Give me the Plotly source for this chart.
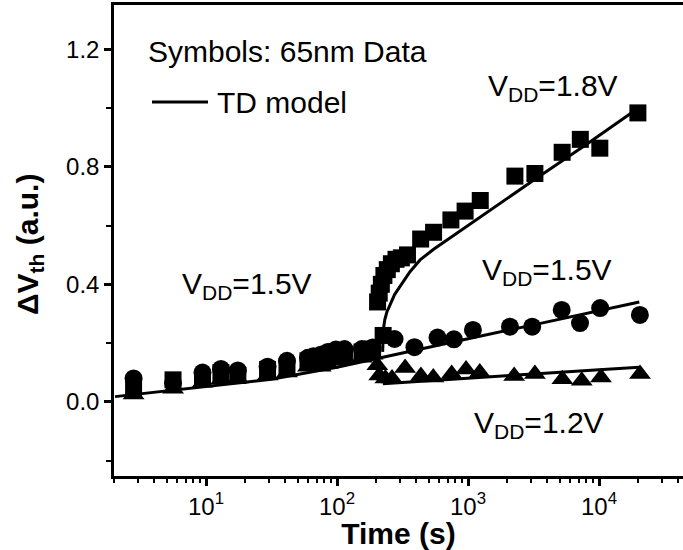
import plotly.graph_objects as go

# ---------------- data ----------------
# early stress (all devices at 1.5 V) then split at ~220 s
t_early = [2.8, 5.6, 9.4, 13, 17.5, 29.5, 41.5, 60, 66, 75, 85, 98, 114, 155, 187]
sq_early = [0.05, 0.075, 0.08, 0.10, 0.09, 0.11, 0.12, 0.14, 0.15, 0.15, 0.16, 0.17, 0.16, 0.17, 0.18]
ci_early = [0.08, 0.065, 0.10, 0.112, 0.107, 0.12, 0.14, 0.15, 0.155, 0.16, 0.17, 0.178, 0.18, 0.18, 0.185]
tr_early = [0.025, 0.045, 0.065, 0.075, 0.08, 0.09, 0.10, 0.12, 0.125, 0.12, 0.13, 0.14, 0.145, 0.15, 0.16]

# V_DD = 1.8 V (squares)
t_sq = [225, 204, 210, 218, 228, 242, 260, 282, 310, 345, 435, 546, 740, 950, 1240,
        2280, 3240, 5230, 7200, 10140, 19800]
v_sq = [0.226, 0.34, 0.37, 0.40, 0.43, 0.45, 0.47, 0.485, 0.49, 0.50, 0.554, 0.577,
        0.619, 0.649, 0.685, 0.768, 0.777, 0.849, 0.893, 0.863, 0.983]

# V_DD = 1.5 V (circles)
t_ci = [275, 390, 585, 780, 1090, 2090, 3090, 5190, 7160, 10200, 20500]
v_ci = [0.214, 0.186, 0.219, 0.213, 0.245, 0.256, 0.256, 0.313, 0.268, 0.319, 0.296]

# V_DD = 1.2 V (triangles)
t_tr = [203, 210, 234, 263, 331, 437, 543, 750, 966, 1230, 2250, 3240, 5250, 7380, 10350, 20560]
v_tr = [0.125, 0.09, 0.08, 0.08, 0.115, 0.088, 0.083, 0.095, 0.11, 0.10, 0.088, 0.095,
        0.077, 0.072, 0.083, 0.095]

# TD model curves
m15_t = [2.02, 9.0, 31.6, 100, 302, 1000, 3160, 10000, 20300]
m15_v = [0.018, 0.05, 0.077, 0.118, 0.165, 0.215, 0.262, 0.31, 0.34]
m18_t = [223, 225, 226.5, 231.7, 239.9, 254, 275, 302, 360.6, 430.5, 549.5, 691.8,
         1259, 3162, 7943, 18197]
m18_v = [0.17, 0.222, 0.25, 0.28, 0.305, 0.33, 0.365, 0.392, 0.443, 0.483, 0.52, 0.551,
         0.632, 0.754, 0.875, 0.987]
m12_t = [224, 302, 1000, 3160, 10000, 20300]
m12_v = [0.062, 0.066, 0.081, 0.095, 0.109, 0.118]

x_tickvals = [10, 100, 1000, 10000]
x_ticktext = ["10<sup>1</sup>", "10<sup>2</sup>", "10<sup>3</sup>", "10<sup>4</sup>"]
y_tickvals = [0.0, 0.4, 0.8, 1.2]
y_ticktext = ["0.0", "0.4", "0.8", "1.2"]
y_minor = [-0.2, 0.2, 0.6, 1.0]

# ---------------- figure ----------------
W, H = 683, 550
L, R, T, B = 114, 0, 5, 74
PW, PH = W - L - R, H - T - B
FONT = "Liberation Sans, Arial, sans-serif"


def px(x):
    return (x - L) / PW


def py(y):
    return (H - B - y) / PH


fig = go.Figure()
line_style = dict(color="black", width=3)
for tt, vv in [(m15_t, m15_v), (m18_t, m18_v), (m12_t, m12_v)]:
    fig.add_trace(go.Scatter(x=tt, y=vv, mode="lines", line=line_style,
                             showlegend=False, hoverinfo="skip"))

mk = dict(color="black", line=dict(width=0))
fig.add_trace(go.Scatter(x=t_early + t_tr, y=tr_early + v_tr, mode="markers",
                         marker=dict(symbol="triangle-up", size=19, **mk), showlegend=False))
fig.add_trace(go.Scatter(x=t_early + t_sq, y=sq_early + v_sq, mode="markers",
                         marker=dict(symbol="square", size=17, **mk), showlegend=False))
fig.add_trace(go.Scatter(x=t_early + t_ci, y=ci_early + v_ci, mode="markers",
                         marker=dict(symbol="circle", size=18, **mk), showlegend=False))

minor_x = [m * 10 ** e for e in range(0, 5) for m in range(2, 10)]

fig.update_xaxes(type="log", range=[0.2977, 4.641],
                 tickvals=x_tickvals, ticktext=x_ticktext,
                 ticks="outside", ticklen=7, tickwidth=2.5, tickcolor="black",
                 showline=True, linewidth=2.5, linecolor="black", mirror=True,
                 showgrid=False, zeroline=False,
                 tickfont=dict(family=FONT, size=24, color="black"),
                 minor=dict(tickvals=minor_x, ticks="outside", ticklen=4,
                            tickwidth=2, tickcolor="black", showgrid=False),
                 title=dict(text="<b>Time (s)</b>", standoff=4,
                            font=dict(family=FONT, size=30, color="black")))
fig.update_yaxes(range=[-0.252, 1.350],
                 tickvals=y_tickvals, ticktext=y_ticktext,
                 ticks="outside", ticklen=7, tickwidth=2.5, tickcolor="black",
                 showline=True, linewidth=2.5, linecolor="black", mirror=False,
                 showgrid=False, zeroline=False,
                 tickfont=dict(family=FONT, size=24, color="black"),
                 minor=dict(tickvals=y_minor, ticks="outside", ticklen=5,
                            tickwidth=2, tickcolor="black", showgrid=False))

ann_font = dict(family=FONT, size=30, color="black")
annos = [
    dict(text="Symbols: 65nm Data", x=px(146), y=py(52), xanchor="left", yanchor="middle"),
    dict(text="TD model", x=px(215), y=py(103), xanchor="left", yanchor="middle"),
    dict(text="V<sub>DD</sub>=1.8V", x=px(486), y=py(67), xanchor="left", yanchor="top"),
    dict(text="V<sub>DD</sub>=1.5V", x=px(480), y=py(251), xanchor="left", yanchor="top"),
    dict(text="V<sub>DD</sub>=1.5V", x=px(180), y=py(265), xanchor="left", yanchor="top"),
    dict(text="V<sub>DD</sub>=1.2V", x=px(472), y=py(404), xanchor="left", yanchor="top"),
]
for a in annos:
    fig.add_annotation(xref="paper", yref="paper", showarrow=False, font=ann_font, **a)

# y-axis title
fig.add_annotation(xref="paper", yref="paper", x=px(29), y=py(245), showarrow=False,
                   text="<b>ΔV<sub>th</sub> (a.u.)</b>", textangle=-90,
                   xanchor="center", yanchor="middle",
                   font=dict(family=FONT, size=30, color="black"))

# legend key line
fig.add_shape(type="line", xref="paper", yref="paper",
              x0=px(152), x1=px(208), y0=py(102), y1=py(102),
              line=dict(color="black", width=3))

fig.update_layout(width=W, height=H, margin=dict(l=L, r=R, t=T, b=B),
                  plot_bgcolor="white", paper_bgcolor="white", showlegend=False)

fig.write_html("out.html")
